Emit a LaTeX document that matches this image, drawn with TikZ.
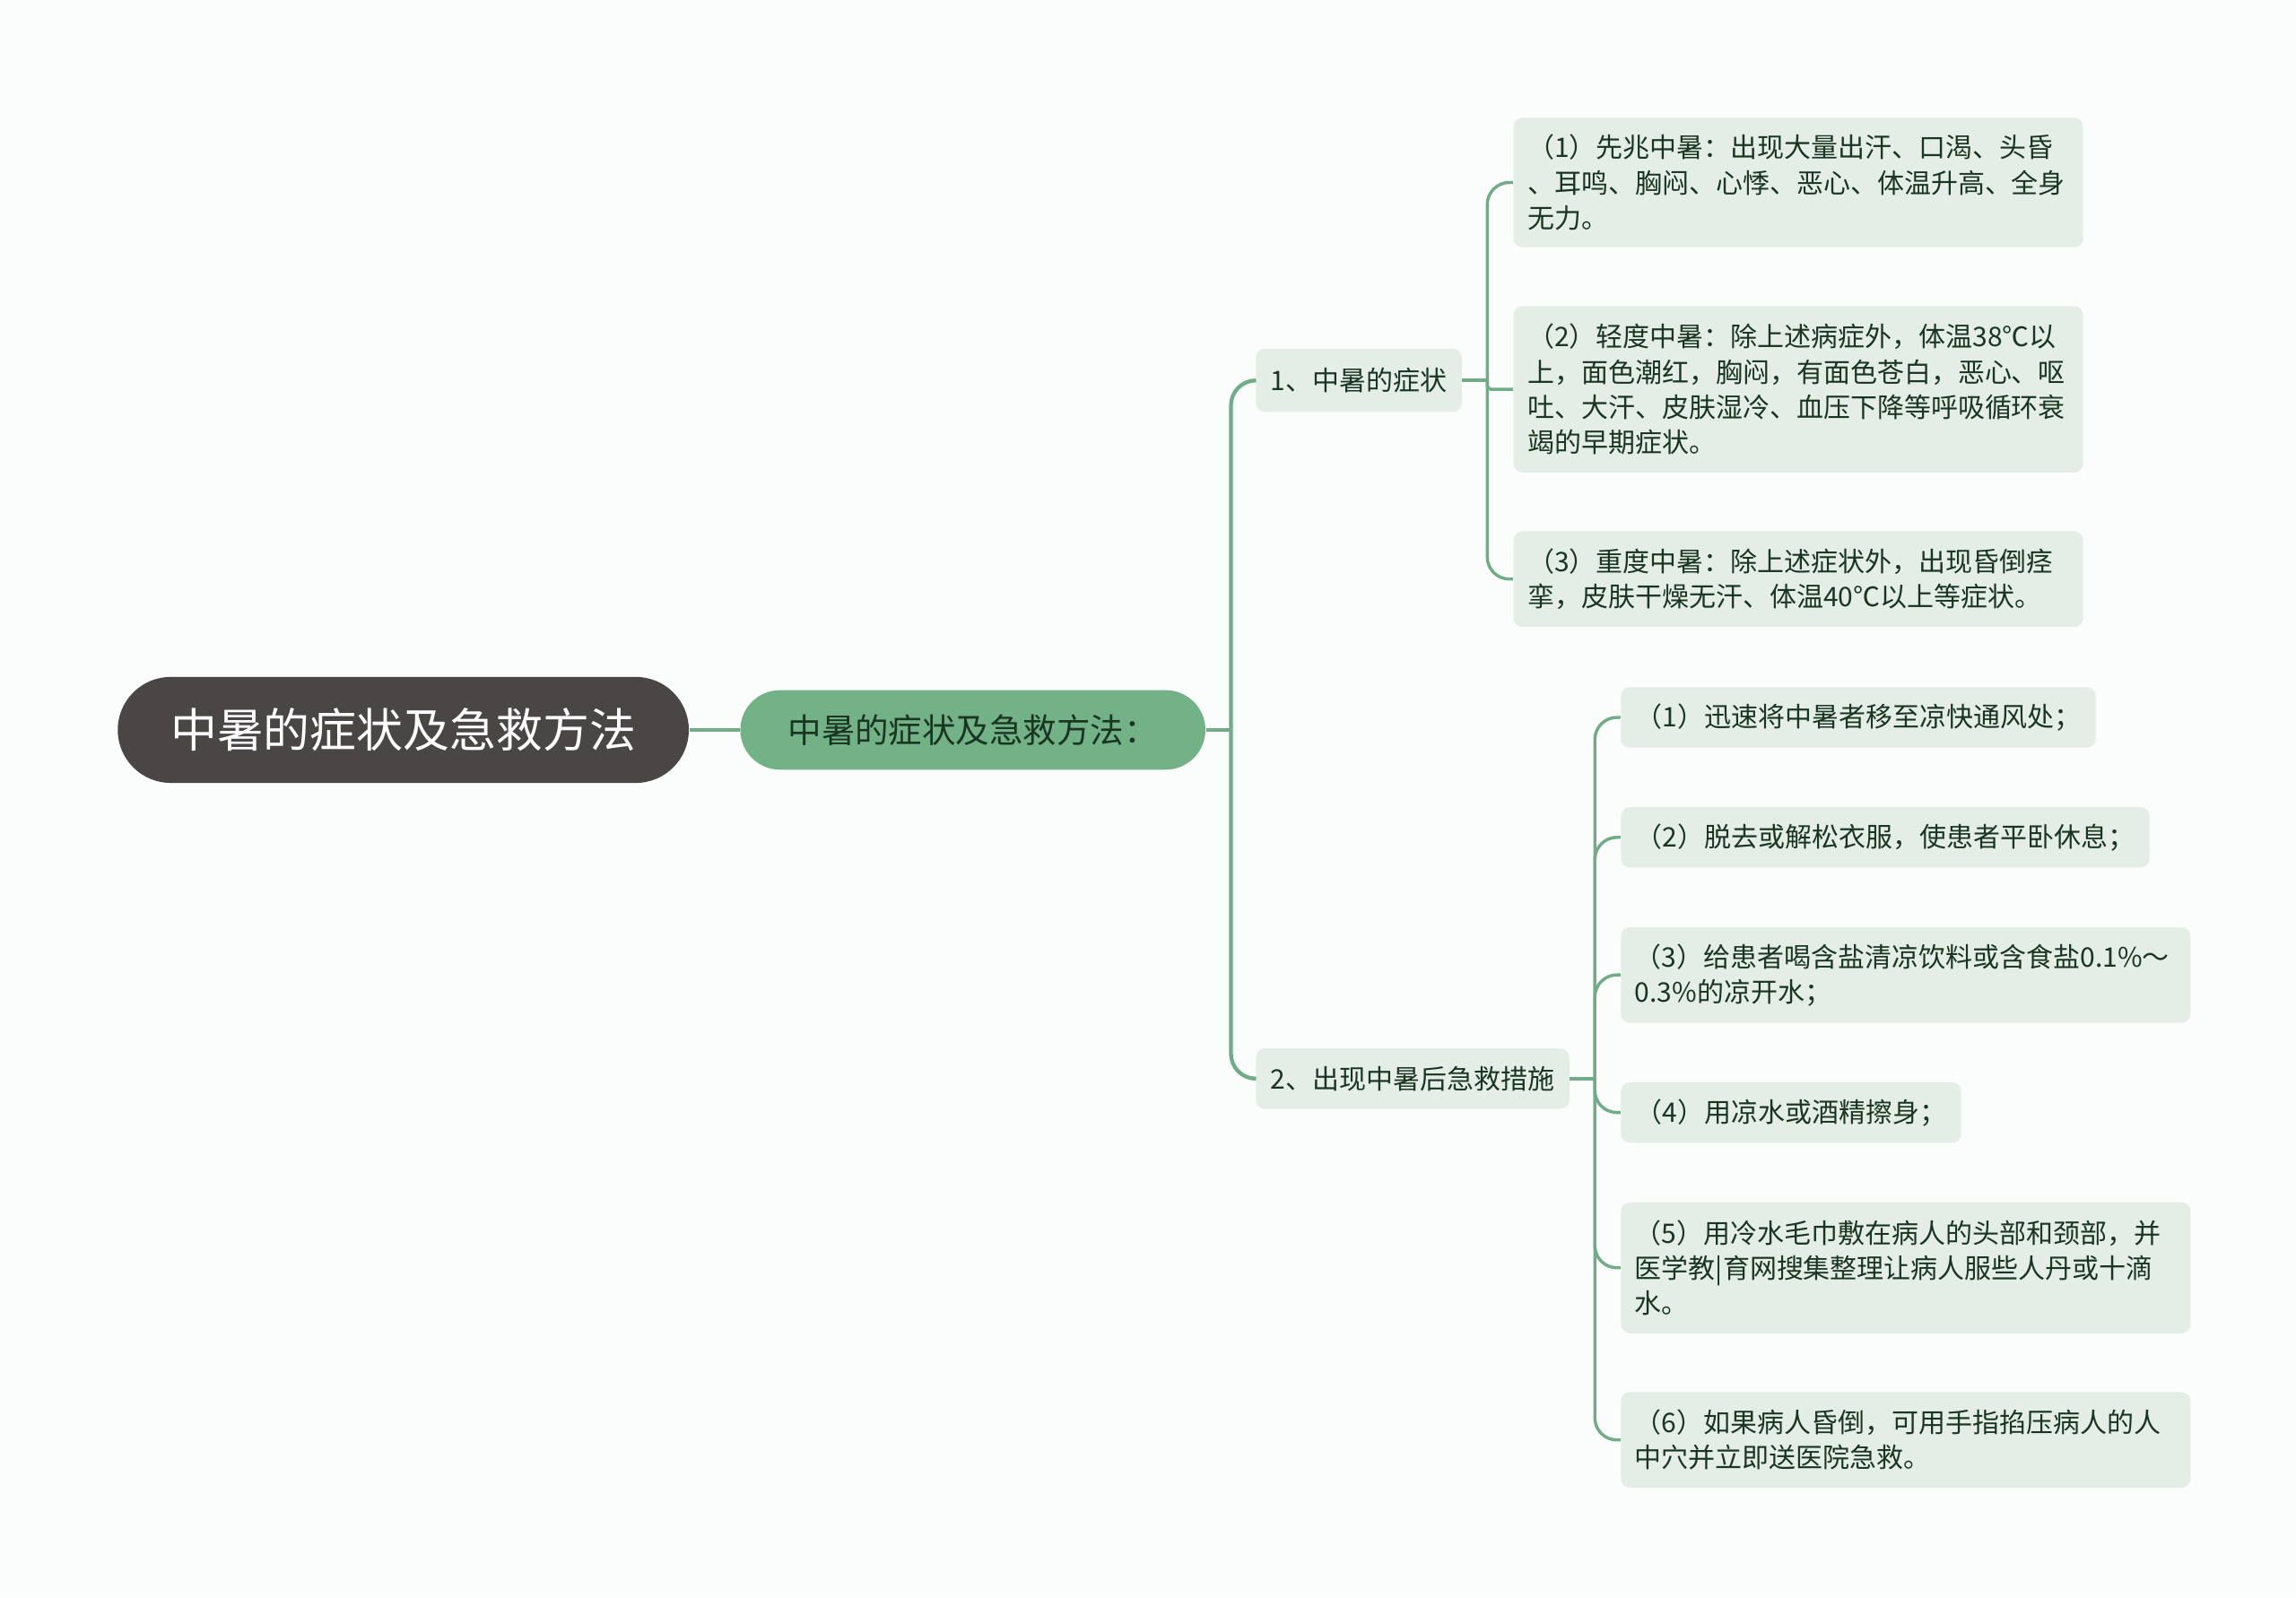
\documentclass[tikz,border=0pt]{standalone}
\usepackage{fontspec}
\setmainfont{Noto Sans CJK SC}
\usetikzlibrary{positioning}

\definecolor{bgpaper}{HTML}{FBFDFC}
\definecolor{rootgrey}{HTML}{4B4646}
\definecolor{maingreen}{HTML}{72B286}
\definecolor{linegreen}{HTML}{72AC86}
\definecolor{leafgreen}{HTML}{E4EEE6}
\definecolor{inkgreen}{HTML}{1A3521}

\tikzset{
    root/.style={fill=rootgrey, text=white, rounded corners=7.2mm,
        minimum width=77.6mm, minimum height=14.4mm,
        font=\fontsize{18}{22}\selectfont},
    topic/.style={fill=maingreen, text=inkgreen, rounded corners=5.4mm,
        minimum width=63.2mm, minimum height=10.8mm,
        font=\fontsize{13}{16}\selectfont},
    leaf/.style={fill=leafgreen, text=inkgreen, rounded corners=1.2mm,
        inner xsep=2mm, inner ysep=1mm, minimum height=8.2mm, anchor=west,
        font=\fontsize{10.4}{13.6}\selectfont},
    para/.style={leaf, text width=73.6mm, inner xsep=1.9mm, align=left},
    link/.style={draw=linegreen, line width=1.2pt, rounded corners=3mm},
}

\begin{document}
\begin{tikzpicture}[x=0.2mm, y=-0.2mm]
    \fill[bgpaper] (0,0) rectangle (1560,1085.3);

    \node[root] (root) at (274,496) {中暑的症状及急救方法};
    \node[topic] (main) at (661,496) {中暑的症状及急救方法：};

    \node[leaf, minimum height=8.6mm] (sym) at (853,258.5) {1、中暑的症状};
    \node[leaf] (aid) at (853,733) {2、出现中暑后急救措施};

    \node[para, minimum height=17.6mm] (sym1) at (1028,124)
        {（1）先兆中暑：出现大量出汗、口渴、头昏\\、耳鸣、胸闷、心悸、恶心、体温升高、全身\\无力。};
    \node[para, minimum height=22.6mm] (sym2) at (1028,264.5)
        {（2）轻度中暑：除上述病症外，体温38℃以\\上，面色潮红，胸闷，有面色苍白，恶心、呕\\吐、大汗、皮肤湿冷、血压下降等呼吸循环衰\\竭的早期症状。};
    \node[para, minimum height=13mm] (sym3) at (1028,393.5)
        {（3）重度中暑：除上述症状外，出现昏倒痉\\挛，皮肤干燥无汗、体温40℃以上等症状。};

    \node[leaf] (aid1) at (1101,487.5) {（1）迅速将中暑者移至凉快通风处；};
    \node[leaf] (aid2) at (1101,569) {（2）脱去或解松衣服，使患者平卧休息；};
    \node[para, minimum height=13mm] (aid3) at (1101,662.5)
        {（3）给患者喝含盐清凉饮料或含食盐0.1\%～\\0.3\%的凉开水；};
    \node[leaf] (aid4) at (1101,756) {（4）用凉水或酒精擦身；};
    \node[para, minimum height=17.8mm] (aid5) at (1101,861.5)
        {（5）用冷水毛巾敷在病人的头部和颈部，并\\医学教|育网搜集整理让病人服些人丹或十滴\\水。};
    \node[para, minimum height=13mm] (aid6) at (1101,978.5)
        {（6）如果病人昏倒，可用手指掐压病人的人\\中穴并立即送医院急救。};

    \coordinate[right=3.4mm of main] (mainfork);
    \coordinate[right=3.4mm of sym] (symfork);
    \coordinate[right=3.4mm of aid] (aidfork);

    \draw[link, line width=1.5pt] (root) -- (main);
    \draw[link, line width=1.5pt] (main) -- (mainfork);
    \foreach \b in {sym,aid}
        \draw[link, line width=1.5pt, rounded corners=3.4mm] (mainfork) |- (\b.west);

    \draw[link] (sym) -- (symfork);
    \foreach \c in {1,3}
        \draw[link] (symfork) |- (sym\c.west);
    \draw[link, rounded corners=0.5mm] (symfork) |- (sym2.west);

    \draw[link] (aid) -- (aidfork);
    \foreach \c in {1,...,6}
        \draw[link] (aidfork) |- (aid\c.west);
\end{tikzpicture}
\end{document}
